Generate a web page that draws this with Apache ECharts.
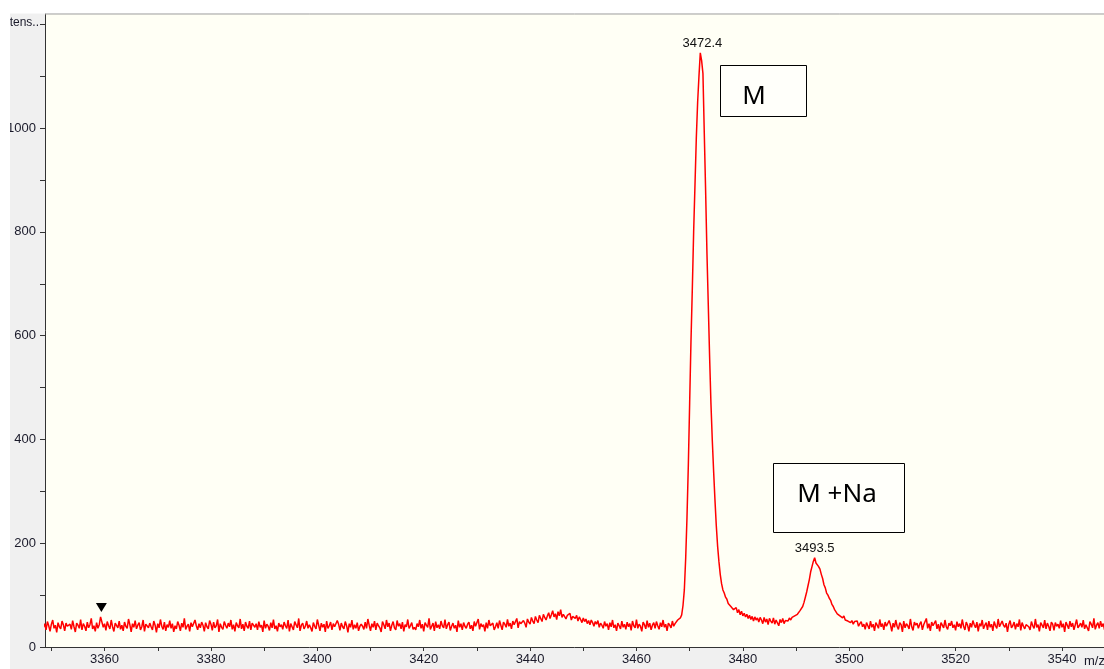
<!DOCTYPE html>
<html><head><meta charset="utf-8">
<script src="https://cdn.jsdelivr.net/npm/echarts@6/dist/echarts.min.js"></script>
<style>html,body{margin:0;padding:0;background:#fff}#c{width:1104px;height:669px}</style>
</head><body><div id="c"></div>
<script>
// m/z sampling grid of the spectrum (first point and spacing)
const mzStart = 3348.5;
const mzStep = 0.25;
// intensity readings, 20 per row (each row = 5 m/z units)
const intensity = [
  38,45,33,49,41,30,44,52,36,42,28,47,39,35,50,43,31,46,40,37,
  44,34,51,39,29,46,42,36,53,33,45,40,31,48,37,43,55,35,41,30,
  47,36,43,58,56,38,45,32,49,41,35,52,39,30,46,43,37,50,34,42,
  31,48,40,36,54,43,29,45,38,51,35,42,47,33,39,52,30,44,41,37,
  46,39,33,50,42,28,45,37,53,40,34,48,31,43,38,51,36,45,29,41,
  35,49,42,31,46,38,55,34,40,44,30,47,39,36,52,41,33,45,37,48,
  42,30,47,39,35,51,44,32,48,37,41,53,29,45,38,34,49,42,36,46,
  39,52,34,43,30,47,41,37,54,35,44,31,48,40,36,50,33,46,42,38,
  45,33,49,38,42,29,51,36,44,40,32,47,37,53,35,41,30,46,39,43,
  34,48,41,36,52,30,45,39,33,49,43,37,55,31,42,46,35,40,50,36,
  43,37,30,47,40,35,53,42,31,46,38,44,29,50,36,41,48,33,45,39,
  37,51,44,32,46,39,35,49,41,28,45,38,52,34,43,36,47,31,40,44,
  40,34,48,36,54,42,31,45,38,50,33,46,41,37,29,49,43,35,52,39,
  46,31,42,49,37,33,51,40,45,35,48,30,43,39,53,36,41,47,34,38,
  33,45,39,52,36,44,30,47,42,38,55,34,40,46,31,49,37,43,35,50,
  41,37,53,35,43,48,32,40,46,36,42,29,51,38,45,33,47,40,36,44,
  48,35,42,31,49,40,37,54,34,45,39,43,30,47,36,52,41,38,46,33,
  39,47,36,51,42,33,48,44,38,53,40,46,35,50,43,41,55,37,49,45,
  42,51,46,38,54,48,44,57,50,45,59,52,47,61,55,49,63,57,52,60,
  66,55,62,70,58,64,53,68,60,72,57,63,66,54,61,58,65,52,59,62,
  55,61,50,58,53,47,56,49,54,45,51,43,52,47,40,49,44,51,38,46,
  42,36,49,40,45,33,47,39,52,37,43,31,46,41,35,50,38,44,34,48,
  39,45,32,50,41,37,53,36,44,40,30,48,43,35,51,38,46,33,42,47,
  36,49,41,34,47,39,52,38,44,31,46,42,37,50,40,45,48,52,50,56,
  62,80,110,170,250,350,470,590,690,800,890,980,1050,1100,1145,1130,1105,990,880,760,
  660,560,470,400,340,285,235,195,165,140,122,110,104,96,92,84,86,78,80,72,
  70,76,66,72,62,69,60,65,58,63,55,61,53,59,50,58,52,56,48,57,
  52,45,57,48,54,43,55,50,46,56,44,52,49,41,53,47,55,45,51,48,
  50,56,52,57,54,60,58,63,64,70,72,78,86,96,106,118,130,145,155,165,
  172,162,165,155,150,140,132,120,114,104,100,94,90,82,78,72,70,64,66,60,
  62,56,60,52,55,50,53,47,51,44,49,46,50,40,45,49,39,44,34,47,
  41,35,50,38,44,31,47,42,36,53,39,45,33,48,40,37,51,43,30,46,
  38,52,40,34,47,43,29,50,37,45,41,35,54,39,32,48,42,46,36,44,
  49,33,43,40,55,36,45,31,48,41,38,51,35,44,30,47,42,37,52,39,
  34,46,41,50,37,43,32,49,39,45,36,53,40,33,48,42,30,46,38,51,
  43,37,48,30,45,40,52,35,42,47,33,50,38,44,31,49,41,36,54,39,
  36,50,42,38,46,29,44,51,37,41,48,34,45,39,53,32,47,40,35,43,
  45,39,33,49,41,36,54,38,43,30,47,42,37,52,35,46,40,31,48,44,
  32,47,40,44,36,51,38,45,29,48,42,35,50,39,46,33,43,53,37,41,
  46,38,52,35,43,40,31,49,44,37,55,34,42,47,36,50,39,45,33,48
];
// peak annotations
const peakMz = [3472.4, 3493.5];
const peakIntensity = [1145, 172];
const peakText = ['3472.4', '3493.5'];
// marker triangle
const markerMz = 3359.4;
const markerIntensity = 76;
// axis ticks and labels
const xMinorTicks = [3350,3360,3370,3380,3390,3400,3410,3420,3430,3440,3450,3460,3470,3480,3490,3500,3510,3520,3530,3540];
const xTickLabels = [3360,3380,3400,3420,3440,3460,3480,3500,3520,3540];
const yTicks = [0,100,200,300,400,500,600,700,800,900,1000,1100,1200];
const yTickLabels = [0,200,400,600,800,1000];
const yTopLabel = 'tens..';
const xUnit = 'm/z';
const annotations = ['M', 'M +Na'];

const data = intensity.map((v, i) => [mzStart + i * mzStep, v]);

const chart = echarts.init(document.getElementById('c'), null, {renderer: 'canvas'});
const lblFont = {fontFamily: 'Liberation Sans', fontSize: 13, color: '#1a1a2a'};
chart.setOption({
  animation: false,
  backgroundColor: '#f0f0f0',
  grid: {left: 45, top: 14, right: 0, bottom: 22, show: true, backgroundColor: '#fffff5', borderWidth: 0},
  xAxis: {
    type: 'value', min: 3348.8, max: 3547.9,
    axisLine: {show: true, onZero: false, lineStyle: {color: '#333', width: 1}},
    axisTick: {show: true, length: 4, customValues: xMinorTicks, lineStyle: {color: '#333'}},
    axisLabel: Object.assign({customValues: xTickLabels, margin: 6, formatter: v => String(v)}, lblFont),
    splitLine: {show: false}
  },
  yAxis: {
    type: 'value', min: 0, max: 1220,
    axisLine: {show: true, lineStyle: {color: '#333', width: 1}},
    axisTick: {show: true, length: 5, customValues: yTicks, lineStyle: {color: '#333'}},
    axisLabel: Object.assign({customValues: yTickLabels, margin: 9, formatter: v => String(v)}, lblFont),
    splitLine: {show: false}
  },
  graphic: [
    {type: 'rect', shape: {x: 0, y: 0, width: 1104, height: 13.5}, style: {fill: '#ffffff'}, silent: true, z: 1000},
    {type: 'rect', shape: {x: 0, y: 0, width: 10, height: 669}, style: {fill: '#ffffff'}, silent: true, z: 1000},
    {type: 'line', shape: {x1: 45, y1: 14, x2: 1104, y2: 14}, style: {stroke: '#a0a0a0', lineWidth: 1}, silent: true, z: 1000},
    {type: 'text', x: 39, y: 23, style: {text: yTopLabel, font: '12px "Liberation Sans"', fill: '#1a1a2a', align: 'right', verticalAlign: 'middle'}, z: 100},
    {type: 'rect', shape: {x: 720.5, y: 65.5, width: 86, height: 51}, style: {fill: '#fffffa', stroke: '#000', lineWidth: 1}, z: 100},
    {type: 'text', x: 754, y: 97, style: {text: annotations[0], font: '26px "Noto Sans"', fill: '#000', align: 'center', verticalAlign: 'middle'}, z: 101},
    {type: 'rect', shape: {x: 773.5, y: 463.5, width: 131, height: 69}, style: {fill: '#fffffa', stroke: '#000', lineWidth: 1}, z: 100},
    {type: 'text', x: 837, y: 495, style: {text: annotations[1], font: '26px "Noto Sans"', fill: '#000', align: 'center', verticalAlign: 'middle'}, z: 101},
    {type: 'text', x: 1084, y: 661, style: {text: xUnit, font: '13px "Liberation Sans"', fill: '#1a1a2a', align: 'left', verticalAlign: 'middle'}}
  ],
  series: [{
    type: 'line', data: data, showSymbol: false, sampling: 'none',
    lineStyle: {color: '#ff0000', width: 1.5}, clip: true,
    markPoint: {
      silent: true,
      data: [
        {coord: [peakMz[0], peakIntensity[0]], symbol: 'circle', symbolSize: 0,
          label: {show: true, position: 'top', distance: 3, formatter: peakText[0], fontFamily: 'Liberation Sans', fontSize: 13, color: '#111'}},
        {coord: [peakMz[1], peakIntensity[1]], symbol: 'circle', symbolSize: 0,
          label: {show: true, position: 'top', distance: 3, formatter: peakText[1], fontFamily: 'Liberation Sans', fontSize: 13, color: '#111'}},
        {coord: [markerMz, markerIntensity], symbol: 'triangle', symbolRotate: 180, symbolSize: [11, 9],
          itemStyle: {color: '#000'}, label: {show: false}}
      ]
    }
  }]
});
</script></body></html>
